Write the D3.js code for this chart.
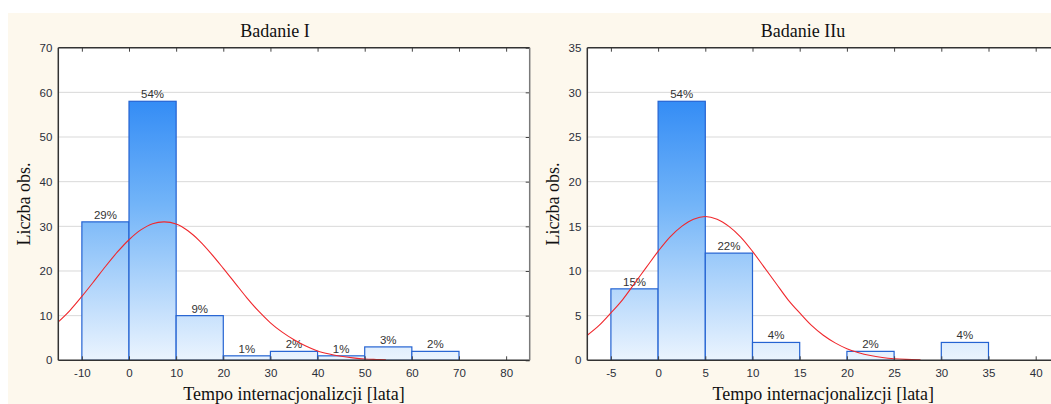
<!DOCTYPE html>
<html><head><meta charset="utf-8">
<script src="https://cdn.jsdelivr.net/npm/d3@7/dist/d3.min.js"></script>
<style>
html,body{margin:0;padding:0;background:#fff;overflow:hidden}
svg{display:block}
</style></head>
<body>
<script>
// ---------- DATA ----------
const titles = ["Badanie I", "Badanie IIu"];
const xLabel = "Tempo internacjonalizcji [lata]";
const yLabel = "Liczba obs.";

// Panel 1 (Badanie I)
const binStarts1 = [-10, 0, 10, 20, 30, 40, 50, 60];
const binWidth1 = 10;
const counts1 = [31, 58, 10, 1, 2, 1, 3, 2];
const pctLabels1 = ["29%", "54%", "9%", "1%", "2%", "1%", "3%", "2%"];
const xTicks1 = [-10, 0, 10, 20, 30, 40, 50, 60, 70, 80];
const yTicks1 = [0, 10, 20, 30, 40, 50, 60, 70];
const curveX1 = [-15,-12.5,-10,-7.5,-5,-2.5,0,2.5,5,7.5,10,12.5,15,17.5,20,22.5,25,27.5,30,32.5,35,37.5,40,42.5,45,47.5,50,52.5,54.5];
const curveY1 = [8.6,11.2,14.3,17.6,21.0,24.2,27.0,29.2,30.6,31.0,30.5,29.0,26.7,23.8,20.6,17.3,14.0,11.0,8.4,6.3,4.6,3.2,2.1,1.4,0.9,0.55,0.3,0.18,0.1];

// Panel 2 (Badanie IIu)
const binStarts2 = [-5, 0, 5, 10, 20, 30];
const binWidth2 = 5;
const counts2 = [8, 29, 12, 2, 1, 2];
const pctLabels2 = ["15%", "54%", "22%", "4%", "2%", "4%"];
const xTicks2 = [-5, 0, 5, 10, 15, 20, 25, 30, 35, 40];
const yTicks2 = [0, 5, 10, 15, 20, 25, 30, 35];
const curveX2 = [-7.5,-6.25,-5,-3.75,-2.5,-1.25,0,1.25,2.5,3.75,5,6.25,7.5,8.75,10,11.25,12.5,13.75,15,16.25,17.5,18.75,20,21.25,22.5,23.75,25,26.25,27.8];
const curveY2 = [2.8,3.9,5.3,6.8,8.6,10.4,12.2,13.8,15.0,15.8,16.1,15.8,15.0,13.8,12.2,10.4,8.6,6.8,5.3,3.9,2.8,1.95,1.3,0.84,0.53,0.32,0.18,0.1,0.05];

// ---------- LAYOUT ----------
const W = 1051, H = 404;
const panels = [
  {title: titles[0], xDomain: [-15, 85], yDomain: [0, 70], x0: 58.3, x1: 529.7, titleX: 275, yLabelX: 30,
   bins: binStarts1, bw: binWidth1, counts: counts1, pct: pctLabels1, xTicks: xTicks1, yTicks: yTicks1, cx: curveX1, cy: curveY1},
  {title: titles[1], xDomain: [-7.5, 42.5], yDomain: [0, 35], x0: 587.3, x1: 1059.3, titleX: 803, yLabelX: 559,
   bins: binStarts2, bw: binWidth2, counts: counts2, pct: pctLabels2, xTicks: xTicks2, yTicks: yTicks2, cx: curveX2, cy: curveY2}
];
const plotTop = 47.7, plotBottom = 360.3;

const svg = d3.select("body").append("svg").attr("width", W).attr("height", H);
svg.append("rect").attr("x", 0).attr("y", 0).attr("width", W).attr("height", H).attr("fill", "#fff");
svg.append("rect").attr("x", 8).attr("y", 13).attr("width", W - 8).attr("height", H - 13).attr("fill", "#fdf8ed");

const defs = svg.append("defs");
const fmt = d => String(d);

panels.forEach((p, i) => {
  const x = d3.scaleLinear().domain(p.xDomain).range([p.x0, p.x1]);
  const y = d3.scaleLinear().domain(p.yDomain).range([plotBottom, plotTop]);
  const g = svg.append("g");

  const clipId = "clip" + i;
  defs.append("clipPath").attr("id", clipId).append("rect")
    .attr("x", p.x0).attr("y", plotTop).attr("width", p.x1 - p.x0).attr("height", plotBottom - plotTop);

  const gradId = "grad" + i;
  const grad = defs.append("linearGradient").attr("id", gradId)
    .attr("gradientUnits", "userSpaceOnUse").attr("x1", 0).attr("x2", 0).attr("y1", plotTop).attr("y2", plotBottom);
  grad.append("stop").attr("offset", 0).attr("stop-color", "#1478f4");
  grad.append("stop").attr("offset", 0.5).attr("stop-color", "#72b4f8");
  grad.append("stop").attr("offset", 1).attr("stop-color", "#ebf4fe");

  // plot background
  g.append("rect").attr("x", p.x0).attr("y", plotTop).attr("width", p.x1 - p.x0).attr("height", plotBottom - plotTop).attr("fill", "#fff");

  // gridlines
  g.append("g").selectAll("line").data(p.yTicks.filter(v => v > p.yDomain[0] && v < p.yDomain[1])).join("line")
    .attr("x1", p.x0).attr("x2", p.x1).attr("y1", d => y(d)).attr("y2", d => y(d))
    .attr("stroke", "#d9d9d9").attr("stroke-width", 1);

  // bars
  const bars = p.bins.map((b, k) => ({x: b, c: p.counts[k], t: p.pct[k]}));
  g.append("g").selectAll("rect").data(bars).join("rect")
    .attr("x", d => x(d.x)).attr("width", d => x(d.x + p.bw) - x(d.x))
    .attr("y", d => y(d.c)).attr("height", d => y(0) - y(d.c))
    .attr("fill", `url(#${gradId})`).attr("stroke", "#2463d2").attr("stroke-width", 1.2);

  // percent labels
  g.append("g").selectAll("text").data(bars).join("text")
    .attr("x", d => x(d.x + p.bw / 2)).attr("y", d => y(d.c) - 3)
    .attr("text-anchor", "middle").attr("font-family", "Liberation Sans, Arial, sans-serif")
    .attr("font-size", 11.5).attr("fill", "#333").text(d => d.t);

  // fitted curve
  const pts = p.cx.map((v, k) => [v, p.cy[k]]);
  g.append("path").datum(pts).attr("clip-path", `url(#${clipId})`)
    .attr("d", d3.line().x(d => x(d[0])).y(d => y(d[1])).curve(d3.curveCatmullRom))
    .attr("fill", "none").attr("stroke", "#f0282d").attr("stroke-width", 1.1);

  // axes
  const xa = g.append("g").attr("transform", `translate(0,${plotBottom})`)
    .call(d3.axisBottom(x).tickValues(p.xTicks).tickFormat(fmt).tickSizeInner(-4).tickSizeOuter(0).tickPadding(9));
  const xt = g.append("g").attr("transform", `translate(0,${plotTop})`)
    .call(d3.axisTop(x).tickValues(p.xTicks).tickSizeInner(-4).tickSizeOuter(0).tickFormat(""));
  const ya = g.append("g").attr("transform", `translate(${p.x0},0)`)
    .call(d3.axisLeft(y).tickValues(p.yTicks).tickFormat(fmt).tickSizeInner(0).tickSizeOuter(0).tickPadding(6));
  const yr = g.append("g").attr("transform", `translate(${p.x1},0)`)
    .call(d3.axisRight(y).tickValues(p.yTicks).tickSizeInner(-4).tickSizeOuter(0).tickFormat(""));
  [xa, xt, ya, yr].forEach(a => {
    a.select(".domain").remove();
    a.selectAll(".tick line").attr("stroke", "#444");
    a.selectAll("text").attr("font-family", "Liberation Sans, Arial, sans-serif").attr("font-size", 11.5).attr("fill", "#2b2f3a");
  });

  // frame
  g.append("line").attr("x1", p.x0).attr("x2", p.x1).attr("y1", plotTop).attr("y2", plotTop).attr("stroke", "#333").attr("stroke-width", 1.5);
  g.append("line").attr("x1", p.x0).attr("x2", p.x1).attr("y1", plotBottom).attr("y2", plotBottom).attr("stroke", "#333").attr("stroke-width", 1.5);
  g.append("line").attr("x1", p.x0).attr("x2", p.x0).attr("y1", plotTop).attr("y2", plotBottom).attr("stroke", "#333").attr("stroke-width", 1.5);
  g.append("line").attr("x1", p.x1).attr("x2", p.x1).attr("y1", plotTop).attr("y2", plotBottom).attr("stroke", "#7a7a7a").attr("stroke-width", 1.5);

  // titles
  g.append("text").attr("x", p.titleX).attr("y", 37).attr("text-anchor", "middle")
    .attr("font-family", "Liberation Serif, Times New Roman, serif").attr("font-size", 18).attr("fill", "#111").text(p.title);
  g.append("text").attr("x", (p.x0 + p.x1) / 2).attr("y", 400).attr("text-anchor", "middle")
    .attr("font-family", "Liberation Serif, Times New Roman, serif").attr("font-size", 18).attr("fill", "#111").text(xLabel);
  g.append("text").attr("transform", `translate(${p.yLabelX},${(plotTop + plotBottom) / 2}) rotate(-90)`).attr("text-anchor", "middle")
    .attr("font-family", "Liberation Serif, Times New Roman, serif").attr("font-size", 18).attr("fill", "#111").text(yLabel);
});
</script>
</body></html>
